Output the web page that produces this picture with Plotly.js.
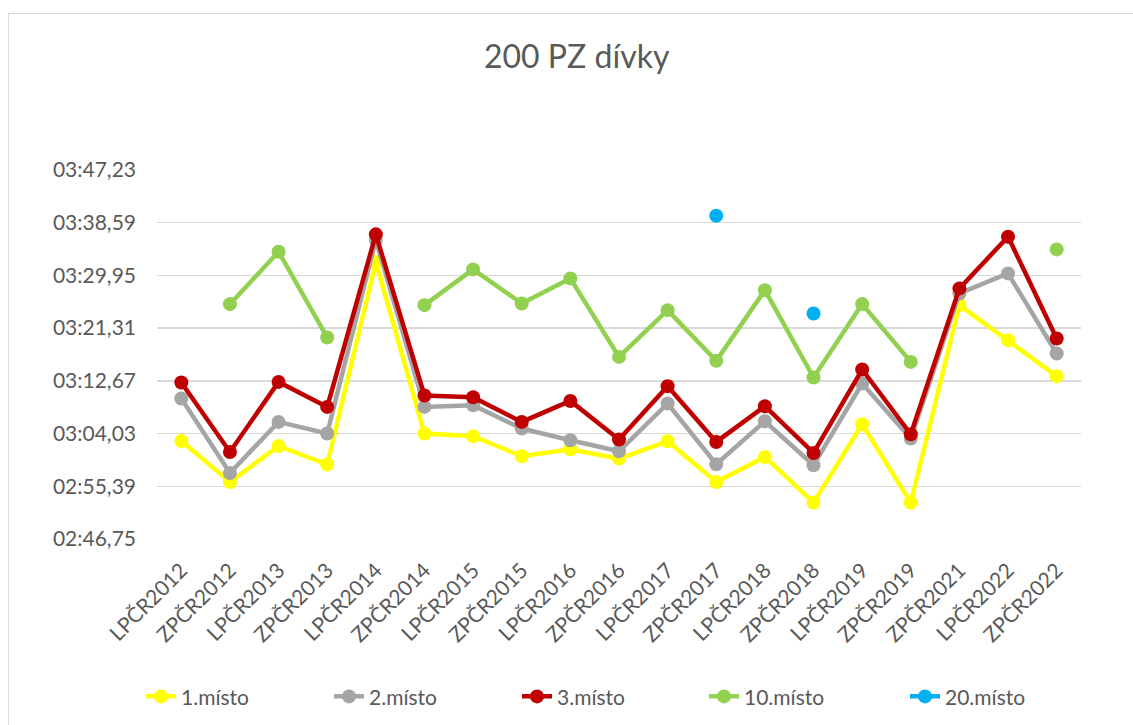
<!DOCTYPE html>
<html>
<head>
<meta charset="utf-8">
<script src="https://cdn.plot.ly/plotly-3.0.1.min.js"></script>
<style>
  html, body { margin: 0; padding: 0; background: #ffffff; }
  #wrap { position: relative; width: 1133px; height: 725px; overflow: hidden; }
  #chart { position: absolute; left: 0; top: 0; width: 1133px; height: 725px; }
  #frame { position: absolute; left: 8px; top: 13px; width: 1140px; height: 730px;
           border: 1px solid #d9d9d9; box-sizing: border-box; pointer-events: none; }
</style>
</head>
<body>
<div id="wrap">
  <div id="chart"></div>
  <div id="frame"></div>
</div>
<script>
// ---- data (times in seconds) ----
const categories = ["LPČR2012","ZPČR2012","LPČR2013","ZPČR2013","LPČR2014","ZPČR2014",
  "LPČR2015","ZPČR2015","LPČR2016","ZPČR2016","LPČR2017","ZPČR2017","LPČR2018",
  "ZPČR2018","LPČR2019","ZPČR2019","ZPČR2021","LPČR2022","ZPČR2022"];

const place1 = [182.82,176.10,182.00,178.95,212.14,184.04,183.59,180.31,181.46,179.93,
  182.77,176.10,180.20,172.72,185.56,172.72,205.08,199.34,193.44];
const place2 = [189.78,177.57,185.94,184.04,215.75,188.40,188.68,184.86,182.94,181.13,
  188.96,179.00,186.05,178.84,192.24,183.21,207.00,210.28,197.16];
const place3 = [192.40,181.02,192.50,188.40,216.68,190.27,189.99,185.94,189.38,183.05,
  191.80,182.66,188.51,180.85,194.53,183.92,207.82,216.29,199.62];
const place10 = [null,205.25,213.83,199.78,null,205.08,210.94,205.36,209.46,196.60,
  204.26,195.95,207.54,193.22,205.25,195.78,null,null,214.22];
const place20 = [null,null,null,null,null,null,null,null,null,null,
  null,219.73,null,203.72,null,null,null,null,null];

const seriesNames = ["1.místo","2.místo","3.místo","10.místo","20.místo"];
const seriesColors = ["#FFFF00","#A5A5A5","#C00000","#92D050","#00B0F0"];

const yTickValues = [166.75,175.39,184.03,192.67,201.31,209.95,218.59,227.23];
const yTickLabels = ["02:46,75","02:55,39","03:04,03","03:12,67","03:21,31","03:29,95","03:38,59","03:47,23"];

const FONT = "Lato, 'Open Sans', 'Liberation Sans', sans-serif";
const TXT = "#595959";

const legendIds = ["legend","legend2","legend3","legend4","legend5"];
const legendLeftPx = [141, 329, 517, 704, 905];

const allSeries = [place1, place2, place3, place10, place20];
const traces = allSeries.map((vals, k) => ({
  type: "scatter",
  mode: "lines+markers",
  name: seriesNames[k],
  x: categories,
  y: vals,
  connectgaps: false,
  line: { color: seriesColors[k], width: 4.5 },
  marker: { color: seriesColors[k], size: 14 },
  legend: legendIds[k],
  hoverinfo: "skip"
}));

const layout = {
  width: 1133,
  height: 725,
  paper_bgcolor: "#ffffff",
  plot_bgcolor: "#ffffff",
  margin: { l: 157, r: 52, t: 170, b: 186, pad: 0, autoexpand: false },
  font: { family: FONT, color: TXT, size: 21 },
  title: {
    text: "200 PZ dívky",
    font: { family: FONT, size: 32, color: TXT },
    x: 0.509, xanchor: "center", xref: "container",
    y: 0.921, yanchor: "middle", yref: "container"
  },
  xaxis: {
    type: "category",
    range: [-0.5, categories.length - 0.5],
    showgrid: false,
    zeroline: false,
    showline: false,
    ticks: "",
    tickangle: -45,
    ticklabelstandoff: 14,
    tickfont: { family: FONT, size: 21, color: TXT },
    fixedrange: true
  },
  yaxis: {
    range: [166.75, 227.23],
    tickmode: "array",
    tickvals: yTickValues,
    ticktext: yTickLabels,
    showgrid: true,
    gridcolor: "#d9d9d9",
    gridwidth: 1.5,
    zeroline: false,
    showline: false,
    ticks: "",
    ticklabelstandoff: 20,
    tickfont: { family: FONT, size: 21, color: TXT },
    fixedrange: true
  },
  showlegend: true
};

legendIds.forEach((id, k) => {
  layout[id] = {
    orientation: "h",
    xref: "container", yref: "container",
    x: legendLeftPx[k] / 1133, xanchor: "left",
    y: 0.039, yanchor: "middle",
    font: { family: FONT, size: 21, color: TXT },
    bgcolor: "rgba(0,0,0,0)"
  };
});

Plotly.newPlot("chart", traces, layout, { displayModeBar: false, staticPlot: true });
</script>
</body>
</html>
